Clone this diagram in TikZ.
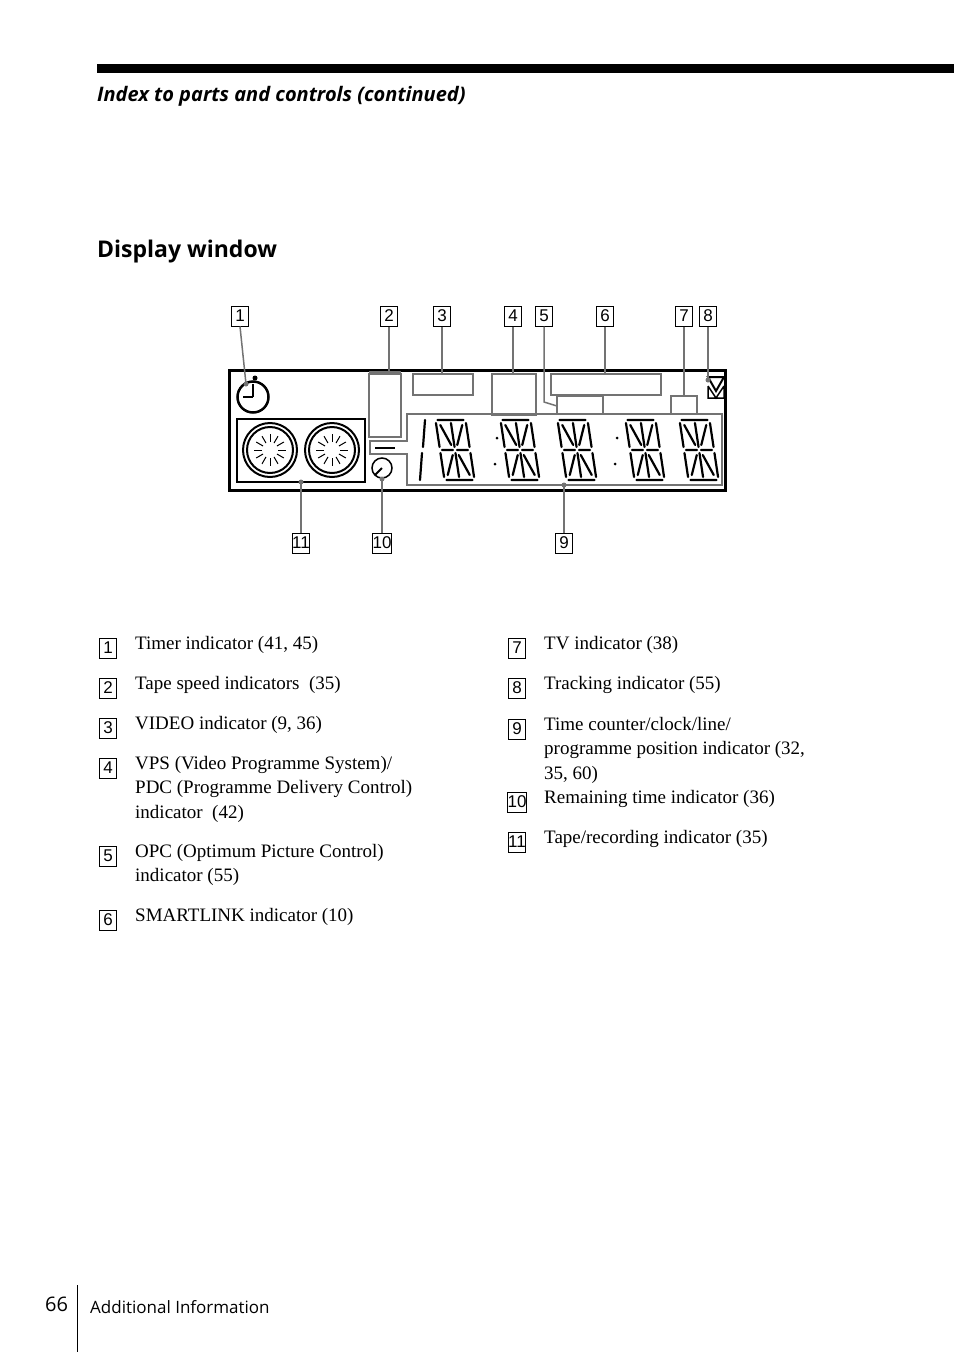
\documentclass[tikz,border=0pt]{standalone}
\usepackage{fontspec}
\setmainfont{Liberation Serif}
\newfontfamily\headfont{Open Sans}
\newfontfamily\numfont{Liberation Sans}
\usetikzlibrary{positioning}

\tikzset{
    numbox/.style={draw, line width=1, inner sep=0, minimum width=17, minimum height=20, font=\numfont\fontsize{17}{17}\selectfont},
    lead/.style={draw=black!55, line width=1.5},
    part/.style={draw=black!55, line width=1.5},
    seg/.style={line width=2.2, line cap=round},
    legend/.style={anchor=north west, inner sep=0, align=left, font=\fontsize{19}{24.5}\selectfont}
}
\newcommand{\segchar}[2]{%
  \begin{scope}[shift={(#1,#2)}, xslant=-0.15]
    \draw[seg] (-13,-30) -- (13,-30) (-13,30) -- (13,30) (-13,0) -- (-2,0) (2,0) -- (13,0)
      (-15,-27) -- (-15,-3) (15,-27) -- (15,-3) (-15,3) -- (-15,27) (15,3) -- (15,27)
      (0,-27) -- (0,-3) (0,3) -- (0,27)
      (-11,-25) -- (-3,-5) (11,-25) -- (3,-5) (-11,25) -- (-3,5) (11,25) -- (3,5);
  \end{scope}}

\begin{document}
\begin{tikzpicture}[x=1pt, y=-1pt]
\useasboundingbox (0,0) rectangle (954,1352);

% page header
\fill (97,64) rectangle (954,73);
\node[anchor=west, inner sep=0, font=\headfont\bfseries\itshape\fontsize{20}{20}\selectfont] (title) at (97,96) {Index to parts and controls (continued)};
\node[anchor=west, inner sep=0, font=\headfont\bfseries\fontsize{23}{23}\selectfont] (section) at (97,252) {Display window};

% display window
\draw[line width=3] (229,370) rectangle (725,490);
\node[draw, line width=2.5, circle, minimum size=31, inner sep=0] (timer) at (253,397) {};
\draw[line width=2.5] (timer.center) -- ++(0,-13) (timer.center) -- ++(-10,0);
\fill (255,378) circle (2.5);
\node[draw, line width=2.2, minimum width=128, minimum height=63, inner sep=0] (reels) at (301,450.5) {};
\foreach \cx in {270,332} {
  \draw[line width=2] (\cx,450) circle (27) (\cx,450) circle (23);
  \foreach \a in {0,30,...,330}
    \draw[line width=1] (\cx,450) ++(\a:8) -- ++(\a:8);
}
\draw[part] (369,374) rectangle (401,437);
\draw[part] (413,374) rectangle (473,395);
\draw[part] (492,374) rectangle (536,415);
\draw[part] (551,374) rectangle (661,395);
\draw[part] (557,415) -- (557,396) -- (603,396) -- (603,415);
\draw[part] (671,415) -- (671,396) -- (697,396) -- (697,415);
\draw[part] (407,414) -- (722,414) -- (722,485) -- (407,485) -- (407,454) -- (370,454) -- (370,441) -- (407,441) -- cycle;
\draw[line width=2.5] (375,448) -- (395,448);
\draw[line width=2] (708,377) -- (716,391) -- (724,377) -- cycle;
\draw[line width=1.5] (708,386) -- (716,398) -- (724,386) (708,386) -- (708,398) -- (724,398) -- (724,386);
\draw[line width=1.5] (382,468) circle (10);
\draw[line width=2] (382,468) -- (375,475);
\draw[seg] (425,420) -- (423,447) (422,453) -- (420,480);
\foreach \px in {455,520,577,645,699} \segchar{\px}{450};
\foreach \px in {497,617} { \fill (\px,438) circle (1.5); \fill (\px-2,464) circle (1.5); }

% callout numbers
\node[numbox] (n1) at (240,316) {1};
\node[numbox] (n2) at (389,316) {2};
\node[numbox] (n3) at (442,316) {3};
\node[numbox] (n4) at (513,316) {4};
\node[numbox] (n5) at (544,316) {5};
\node[numbox] (n6) at (605,316) {6};
\node[numbox] (n7) at (684,316) {7};
\node[numbox] (n8) at (708,316) {8};
\node[numbox] (n11) at (301,543) {11};
\node[numbox] (n10) at (382,543) {10};
\node[numbox] (n9) at (564,543) {9};

% leaders
\coordinate (p1) at (246,384);
\coordinate (p8) at (708,380);
\coordinate (p9) at (564,485);
\coordinate (p10) at (382,479);
\coordinate (p11) at (301,482);
\draw[lead] (n1.south) -- (p1);
\draw[lead] (n2.south) -- (389,372) -- (369,372) (389,372) -- (401,372);
\draw[lead] (n3.south) -- (442,373);
\draw[lead] (n4.south) -- (513,373);
\draw[lead] (n5.south) -- (544,402) -- (557,406);
\draw[lead] (n6.south) -- (605,374);
\draw[lead] (n7.south) -- (684,396);
\draw[lead] (n8.south) -- (p8);
\draw[lead] (n9.north) -- (p9);
\draw[lead] (n10.north) -- (p10);
\draw[lead] (n11.north) -- (p11);
\foreach \p in {p1,p8,p9,p10,p11} \fill[black!55] (\p) circle (2.5);

% legend
\node[numbox] (k1) at (108,648) {1};
\node[numbox] (k2) at (108,688) {2};
\node[numbox] (k3) at (108,728) {3};
\node[numbox] (k4) at (108,768) {4};
\node[numbox] (k5) at (108,856) {5};
\node[numbox] (k6) at (108,920) {6};
\node[numbox] (k7) at (517,648) {7};
\node[numbox] (k8) at (517,688) {8};
\node[numbox] (k9) at (517,729) {9};
\node[numbox] (k10) at (517,802) {10};
\node[numbox] (k11) at (517,842) {11};
\node[legend] (t1) at (135,636) {Timer indicator (41, 45)};
\node[legend] (t2) at (135,676) {Tape speed indicators\ \ (35)};
\node[legend] (t3) at (135,716) {VIDEO indicator (9, 36)};
\node[legend] (t4) at (135,756) {VPS (Video Programme System)/\\PDC (Programme Delivery Control)\\indicator\ \ (42)};
\node[legend] (t5) at (135,844) {OPC (Optimum Picture Control)\\indicator (55)};
\node[legend] (t6) at (135,908) {SMARTLINK indicator (10)};
\node[legend] (t7) at (544,636) {TV indicator (38)};
\node[legend] (t8) at (544,676) {Tracking indicator (55)};
\node[legend] (t9) at (544,717) {Time counter/clock/line/\\programme position indicator (32,\\35, 60)};
\node[legend] (t10) at (544,790) {Remaining time indicator (36)};
\node[legend] (t11) at (544,830) {Tape/recording indicator (35)};

% footer
\node[anchor=west, inner sep=0, font=\headfont\fontsize{20}{20}\selectfont] (page) at (45,1304) {66};
\draw[line width=1] (77,1285) -- (77,1352);
\node[anchor=west, inner sep=0, font=\headfont\fontsize{17}{17}\selectfont] (foot) at (90,1307) {Additional Information};
\end{tikzpicture}
\end{document}
